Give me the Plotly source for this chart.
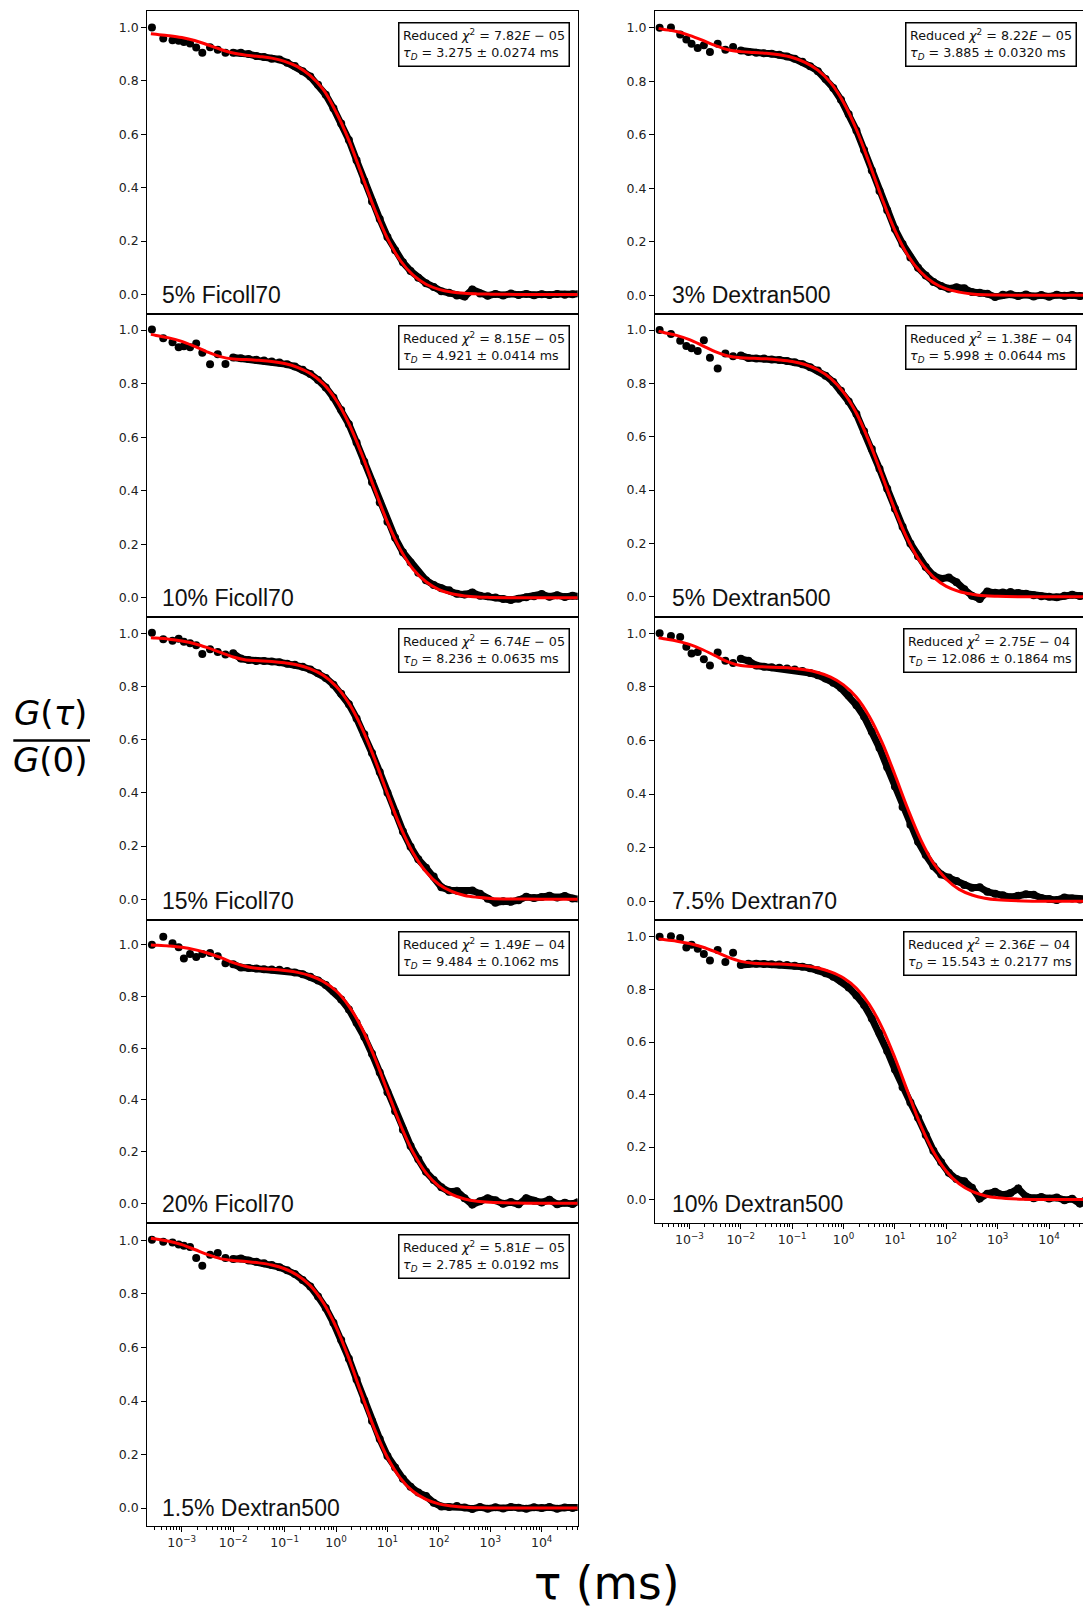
import plotly.graph_objects as go

# ---------------- data ----------------
TAU_DATA = [0.000263, 0.000437, 0.000661, 0.000871, 0.0011, 0.00145, 0.00191, 0.00251, 0.00355,
            0.00501, 0.00708, 0.01, 0.0141, 0.02, 0.0282, 0.0398, 0.0562, 0.0794, 0.112, 0.158,
            0.224, 0.316, 0.447, 0.631, 0.891, 1.26, 1.78, 2.51, 3.55, 5.01, 7.08, 10.0, 14.1,
            20.0, 28.2, 39.8, 56.2, 79.4, 112.0, 158.0, 224.0, 316.0, 447.0, 631.0, 891.0,
            1259.0, 1778.0, 2512.0, 3548.0, 5012.0, 7079.0, 10000.0, 14125.0, 19953.0,
            28184.0, 39811.0, 52481.0]

TAU_FIT = [0.000251, 0.000316, 0.000562, 0.001, 0.00178, 0.00316, 0.00562, 0.01, 0.0178,
           0.0316, 0.0562, 0.1, 0.178, 0.316, 0.562, 1.0, 1.78, 3.16, 5.62, 10.0, 17.8, 31.6,
           56.2, 100.0, 178.0, 316.0, 562.0, 1000.0, 3160.0, 10000.0, 50100.0]

DATA_FICOLL70_5 = [1.000, 0.958, 0.952, 0.950, 0.945, 0.940, 0.925, 0.905, 0.926, 0.916, 0.905, 0.905,
                   0.905, 0.900, 0.893, 0.889, 0.883, 0.880, 0.868, 0.855, 0.836, 0.816, 0.785, 0.748,
                   0.697, 0.640, 0.578, 0.502, 0.425, 0.348, 0.282, 0.215, 0.165, 0.120, 0.088, 0.062,
                   0.042, 0.028, 0.012, 0.006, -0.004, -0.008, 0.018, 0.003, -0.005, 0.002, -0.004,
                   0.003, -0.002, 0.002, -0.003, 0.001, -0.002, 0.002, -0.001, 0.001, 0.003]
FIT_FICOLL70_5 = [0.976, 0.974, 0.969, 0.962, 0.951, 0.935, 0.918, 0.904, 0.896, 0.891, 0.885, 0.873,
                  0.853, 0.819, 0.768, 0.683, 0.577, 0.449, 0.320, 0.210, 0.127, 0.072, 0.038, 0.019,
                  0.009, 0.004, 0.002, 0.001, 0.0, 0.0, 0.0]

DATA_FICOLL70_10 = [1.002, 0.970, 0.955, 0.936, 0.940, 0.936, 0.950, 0.915, 0.872, 0.910, 0.873, 0.898,
                    0.895, 0.892, 0.889, 0.886, 0.883, 0.879, 0.872, 0.864, 0.852, 0.836, 0.814, 0.786,
                    0.748, 0.702, 0.648, 0.580, 0.508, 0.432, 0.356, 0.284, 0.224, 0.170, 0.132, 0.094,
                    0.066, 0.048, 0.036, 0.028, 0.015, 0.012, 0.020, 0.008, 0.006, 0.001, -0.004,
                    -0.008, -0.003, 0.002, 0.006, 0.014, 0.004, 0.010, 0.003, 0.008, 0.005]
FIT_FICOLL70_10 = [0.984, 0.980, 0.971, 0.958, 0.939, 0.918, 0.901, 0.892, 0.890, 0.887, 0.883, 0.875,
                   0.861, 0.838, 0.800, 0.739, 0.651, 0.537, 0.407, 0.283, 0.181, 0.107, 0.060, 0.031,
                   0.015, 0.007, 0.003, 0.0015, 0.0, 0.0, 0.0]

DATA_FICOLL70_15 = [1.002, 0.978, 0.972, 0.980, 0.968, 0.963, 0.955, 0.922, 0.940, 0.930, 0.920, 0.925,
                    0.905, 0.900, 0.896, 0.896, 0.894, 0.891, 0.886, 0.882, 0.874, 0.864, 0.850, 0.832,
                    0.807, 0.773, 0.733, 0.680, 0.620, 0.550, 0.478, 0.400, 0.326, 0.255, 0.197, 0.150,
                    0.118, 0.085, 0.045, 0.034, 0.032, 0.030, 0.033, 0.020, 0.002, -0.013, -0.008,
                    -0.010, -0.004, 0.009, 0.004, 0.008, 0.013, 0.006, 0.012, 0.003, 0.000]
FIT_FICOLL70_15 = [0.983, 0.982, 0.978, 0.971, 0.961, 0.946, 0.928, 0.911, 0.900, 0.897, 0.894, 0.889,
                   0.881, 0.866, 0.842, 0.801, 0.737, 0.645, 0.528, 0.397, 0.273, 0.174, 0.103, 0.056,
                   0.029, 0.014, 0.007, 0.003, 0.0006, 0.0, 0.0]

DATA_FICOLL70_20 = [1.000, 1.031, 1.006, 0.990, 0.947, 0.964, 0.953, 0.964, 0.968, 0.955, 0.928, 0.925,
                    0.912, 0.910, 0.908, 0.905, 0.904, 0.903, 0.898, 0.893, 0.886, 0.876, 0.862, 0.844,
                    0.820, 0.788, 0.750, 0.698, 0.643, 0.578, 0.506, 0.430, 0.356, 0.285, 0.222, 0.170,
                    0.122, 0.090, 0.062, 0.045, 0.047, 0.020, -0.005, 0.008, 0.020, 0.012, -0.002,
                    0.005, -0.004, 0.020, 0.010, 0.003, 0.014, -0.004, 0.002, -0.003, 0.008]
FIT_FICOLL70_20 = [0.999, 0.998, 0.995, 0.990, 0.981, 0.968, 0.951, 0.931, 0.916, 0.908, 0.905, 0.900,
                   0.893, 0.880, 0.858, 0.822, 0.763, 0.678, 0.565, 0.434, 0.305, 0.197, 0.118, 0.066,
                   0.035, 0.017, 0.008, 0.004, 0.001, 0.0, 0.0]

DATA_DEXTRAN500_1_5 = [1.002, 0.995, 0.992, 0.985, 0.980, 0.975, 0.934, 0.905, 0.946, 0.953, 0.934, 0.930,
                       0.932, 0.925, 0.920, 0.915, 0.908, 0.900, 0.888, 0.874, 0.852, 0.828, 0.790, 0.747,
                       0.692, 0.628, 0.558, 0.480, 0.402, 0.325, 0.258, 0.195, 0.152, 0.110, 0.080, 0.058,
                       0.045, 0.020, 0.006, 0.004, 0.008, 0.002, -0.003, 0.004, -0.002, 0.003, -0.001,
                       0.004, 0.001, -0.002, 0.003, 0.000, 0.004, -0.002, 0.002, 0.000, 0.002]
FIT_DEXTRAN500_1_5 = [1.008, 1.005, 0.997, 0.984, 0.966, 0.947, 0.932, 0.925, 0.921, 0.916, 0.908, 0.894,
                      0.870, 0.831, 0.768, 0.677, 0.559, 0.425, 0.295, 0.189, 0.112, 0.062, 0.033, 0.016,
                      0.008, 0.003, 0.0015, 0.0006, 0.0, 0.0, 0.0]

DATA_DEXTRAN500_3 = [1.000, 1.001, 0.975, 0.956, 0.940, 0.925, 0.935, 0.910, 0.940, 0.918, 0.928, 0.915,
                     0.910, 0.907, 0.905, 0.903, 0.899, 0.893, 0.884, 0.873, 0.856, 0.838, 0.809, 0.775,
                     0.731, 0.677, 0.616, 0.543, 0.467, 0.390, 0.318, 0.248, 0.192, 0.141, 0.103, 0.074,
                     0.050, 0.035, 0.025, 0.030, 0.026, 0.012, 0.010, 0.006, -0.006, 0.002, 0.004,
                     -0.003, 0.003, -0.004, 0.001, -0.005, 0.002, -0.002, 0.001, -0.003, 0.000]
FIT_DEXTRAN500_3 = [0.998, 0.994, 0.986, 0.972, 0.954, 0.934, 0.918, 0.911, 0.908, 0.905, 0.899, 0.889,
                    0.871, 0.842, 0.794, 0.721, 0.620, 0.495, 0.362, 0.243, 0.150, 0.087, 0.047, 0.024,
                    0.012, 0.005, 0.002, 0.001, 0.0, 0.0, 0.0]

DATA_DEXTRAN500_5 = [1.000, 0.985, 0.960, 0.940, 0.932, 0.921, 0.962, 0.896, 0.856, 0.912, 0.902, 0.905,
                     0.895, 0.893, 0.893, 0.890, 0.888, 0.884, 0.879, 0.872, 0.861, 0.848, 0.829, 0.805,
                     0.772, 0.732, 0.685, 0.621, 0.554, 0.480, 0.405, 0.330, 0.263, 0.200, 0.152, 0.112,
                     0.080, 0.068, 0.072, 0.055, 0.028, 0.004, -0.008, 0.020, 0.015, 0.016, 0.018,
                     0.014, 0.012, 0.006, 0.002, 0.000, -0.002, 0.004, 0.008, 0.003, 0.005]
FIT_DEXTRAN500_5 = [0.996, 0.991, 0.980, 0.964, 0.942, 0.919, 0.903, 0.896, 0.894, 0.892, 0.888, 0.882,
                    0.871, 0.851, 0.819, 0.766, 0.688, 0.581, 0.455, 0.326, 0.214, 0.130, 0.074, 0.039,
                    0.020, 0.010, 0.004, 0.002, 0.0004, 0.0, 0.0]

DATA_DEXTRAN70_7_5 = [1.001, 0.990, 0.987, 0.950, 0.925, 0.931, 0.904, 0.880, 0.929, 0.898, 0.890, 0.905,
                      0.898, 0.880, 0.876, 0.874, 0.872, 0.869, 0.865, 0.860, 0.852, 0.844, 0.832, 0.816,
                      0.796, 0.768, 0.732, 0.690, 0.633, 0.572, 0.500, 0.428, 0.352, 0.285, 0.222, 0.172,
                      0.130, 0.100, 0.088, 0.075, 0.060, 0.050, 0.052, 0.035, 0.028, 0.022, 0.015,
                      0.020, 0.026, 0.024, 0.012, 0.008, 0.004, 0.014, 0.010, 0.006, 0.008]
FIT_DEXTRAN70_7_5 = [0.984, 0.980, 0.972, 0.959, 0.940, 0.917, 0.894, 0.880, 0.876, 0.875, 0.873, 0.870,
                     0.864, 0.854, 0.837, 0.808, 0.762, 0.691, 0.593, 0.472, 0.345, 0.231, 0.142, 0.082,
                     0.044, 0.023, 0.011, 0.005, 0.001, 0.0, 0.0]

DATA_DEXTRAN500_10 = [1.001, 1.003, 0.996, 0.960, 0.970, 0.955, 0.935, 0.910, 0.950, 0.905, 0.940, 0.893,
                      0.898, 0.898, 0.897, 0.896, 0.895, 0.893, 0.890, 0.887, 0.881, 0.873, 0.862, 0.849,
                      0.832, 0.808, 0.777, 0.741, 0.690, 0.633, 0.566, 0.495, 0.428, 0.370, 0.312, 0.246,
                      0.186, 0.142, 0.102, 0.078, 0.070, 0.045, 0.004, 0.022, 0.030, 0.018, 0.025,
                      0.042, 0.012, 0.005, 0.010, 0.004, 0.008, -0.002, 0.003, -0.015, 0.002]
FIT_DEXTRAN500_10 = [0.992, 0.990, 0.984, 0.975, 0.962, 0.944, 0.923, 0.907, 0.900, 0.898, 0.897, 0.894,
                     0.890, 0.882, 0.867, 0.844, 0.805, 0.744, 0.655, 0.540, 0.410, 0.284, 0.182, 0.108,
                     0.060, 0.031, 0.015, 0.007, 0.0014, 0.0003, 0.0]

LABELS = ["5% Ficoll70", "10% Ficoll70", "15% Ficoll70", "20% Ficoll70", "1.5% Dextran500",
          "3% Dextran500", "5% Dextran500", "7.5% Dextran70", "10% Dextran500"]
CHI2_MANT = ["7.82", "8.15", "6.74", "1.49", "5.81", "8.22", "1.38", "2.75", "2.36"]
CHI2_EXP = ["05", "05", "05", "04", "05", "05", "04", "04", "04"]
TAU_D = ["3.275", "4.921", "8.236", "9.484", "2.785", "3.885", "5.998", "12.086", "15.543"]
TAU_D_ERR = ["0.0274", "0.0414", "0.0635", "0.1062", "0.0192", "0.0320", "0.0644", "0.1864", "0.2177"]

Y_TICKS = [0.0, 0.2, 0.4, 0.6, 0.8, 1.0]
Y_TICK_TEXT = ["0.0", "0.2", "0.4", "0.6", "0.8", "1.0"]
X_TICK_DECADES = [-3, -2, -1, 0, 1, 2, 3, 4]
X_TICK_TEXT = ["10<sup>−3</sup>", "10<sup>−2</sup>", "10<sup>−1</sup>", "10<sup>0</sup>",
               "10<sup>1</sup>", "10<sup>2</sup>", "10<sup>3</sup>", "10<sup>4</sup>"]
MINOR_DECADES = [-4, -3, -2, -1, 0, 1, 2, 3, 4]
MINOR_MULT = [2, 3, 4, 5, 6, 7, 8, 9]

DATA = [DATA_FICOLL70_5, DATA_FICOLL70_10, DATA_FICOLL70_15, DATA_FICOLL70_20, DATA_DEXTRAN500_1_5,
        DATA_DEXTRAN500_3, DATA_DEXTRAN500_5, DATA_DEXTRAN70_7_5, DATA_DEXTRAN500_10]
FITS = [FIT_FICOLL70_5, FIT_FICOLL70_10, FIT_FICOLL70_15, FIT_FICOLL70_20, FIT_DEXTRAN500_1_5,
        FIT_DEXTRAN500_3, FIT_DEXTRAN500_5, FIT_DEXTRAN70_7_5, FIT_DEXTRAN500_10]

# ---------------- layout geometry / styling ----------------
Y_RANGES = [[-0.0725, 1.0625], [-0.071, 1.061], [-0.078, 1.062], [-0.076, 1.096], [-0.067, 1.065],
            [-0.069, 1.064], [-0.075, 1.061], [-0.070, 1.062], [-0.089, 1.065]]
X_RANGE = [-3.67, 4.70]
WIN_W, WIN_H = 1091, 1610
PAGE_OFF = 8.0                      # default body margin of the html page
FIG_W, FIG_H = WIN_W - PAGE_OFF, WIN_H - PAGE_OFF
COL_X = [(147.3, 577.7), (655.0, 1085.0)]   # window pixels
PANEL_TOP0 = 10.7
PANEL_H = 303.07
POSITIONS = [(0, 0), (0, 1), (0, 2), (0, 3), (0, 4), (1, 0), (1, 1), (1, 2), (1, 3)]
BOTTOM_PANELS = {4, 8}
LABEL_XOFF = [12.5, 14.8]
LINE_START = 11


def px(xw):
    return (xw - PAGE_OFF) / FIG_W


def py(yw):
    return 1 - (yw - PAGE_OFF) / FIG_H


minor_vals = [m * 10.0 ** d for d in MINOR_DECADES for m in MINOR_MULT]
major_vals = [10.0 ** d for d in X_TICK_DECADES]

fig = go.Figure()
layout = {}
annotations = []

for i in range(9):
    col, row = POSITIONS[i]
    n = i + 1
    sfx = "" if n == 1 else str(n)
    x0, x1 = COL_X[col]
    top = PANEL_TOP0 + PANEL_H * row
    bot = top + PANEL_H
    is_bottom = i in BOTTOM_PANELS

    layout["xaxis" + sfx] = dict(
        domain=[px(x0), px(x1)], anchor="y" + sfx, type="log", range=X_RANGE,
        automargin=False,
        showline=True, mirror=True, linecolor="black", linewidth=1.3,
        showgrid=False, zeroline=False,
        ticks="outside" if is_bottom else "", ticklen=5, tickwidth=1, tickcolor="black",
        tickmode="array", tickvals=major_vals, ticktext=X_TICK_TEXT,
        showticklabels=is_bottom,
        tickfont=dict(family="DejaVu Sans", size=12.5, color="#222222"),
        minor=dict(tickmode="array", tickvals=minor_vals,
                   ticks="outside" if is_bottom else "", ticklen=2.8, tickwidth=0.8,
                   tickcolor="black", showgrid=False),
    )
    layout["yaxis" + sfx] = dict(
        domain=[py(bot), py(top)], anchor="x" + sfx, range=Y_RANGES[i],
        automargin=False,
        showline=True, mirror=True, linecolor="black", linewidth=1.3,
        showgrid=False, zeroline=False,
        ticks="outside", ticklen=5, tickwidth=1, tickcolor="black",
        tickmode="array", tickvals=Y_TICKS, ticktext=Y_TICK_TEXT,
        tickfont=dict(family="DejaVu Sans", size=12.5, color="#222222"),
    )

    xr, yr = "x" + sfx, "y" + sfx
    fig.add_trace(go.Scatter(x=TAU_DATA[LINE_START:], y=DATA[i][LINE_START:], mode="lines",
                             line=dict(color="black", width=7), xaxis=xr, yaxis=yr,
                             cliponaxis=False, hoverinfo="skip"))
    fig.add_trace(go.Scatter(x=TAU_DATA, y=DATA[i], mode="markers",
                             marker=dict(color="black", size=8, line=dict(width=0)),
                             xaxis=xr, yaxis=yr, cliponaxis=False))
    fig.add_trace(go.Scatter(x=TAU_FIT, y=FITS[i], mode="lines", line_shape="spline",
                             line=dict(color="#ff0000", width=3), xaxis=xr, yaxis=yr))

    annotations.append(dict(
        xref=xr + " domain", yref=yr + " domain",
        x=LABEL_XOFF[col] / (x1 - x0), y=18.5 / PANEL_H,
        xanchor="left", yanchor="middle", showarrow=False,
        text=LABELS[i], font=dict(family="Liberation Sans", size=23, color="#111111")))
    annotations.append(dict(
        xref=xr + " domain", yref=yr + " domain",
        x=1 - 8.2 / (x1 - x0), y=1 - 11.0 / PANEL_H,
        xanchor="right", yanchor="top", showarrow=False, align="left",
        text=("Reduced <i>χ</i><sup>2</sup> = " + CHI2_MANT[i] + "<i>E</i> − " + CHI2_EXP[i] +
              "<br><i>τ</i><sub><i>D</i></sub> = " + TAU_D[i] + " ± " + TAU_D_ERR[i] + " ms"),
        font=dict(family="DejaVu Sans", size=12.7, color="#111111"),
        bordercolor="black", borderwidth=1.5, borderpad=3.5, bgcolor="white"))

# axis titles
annotations.append(dict(xref="paper", yref="paper", x=px(50.5), y=py(713.2),
                        xanchor="center", yanchor="middle", showarrow=False,
                        text="<i>G</i>(<i>τ</i>)",
                        font=dict(family="DejaVu Sans", size=34, color="black")))
annotations.append(dict(xref="paper", yref="paper", x=px(50.5), y=py(759.9),
                        xanchor="center", yanchor="middle", showarrow=False,
                        text="<i>G</i>(0)",
                        font=dict(family="DejaVu Sans", size=34, color="black")))
annotations.append(dict(xref="paper", yref="paper", x=px(606.5), y=py(1583.0),
                        xanchor="center", yanchor="middle", showarrow=False,
                        text="τ (ms)",
                        font=dict(family="DejaVu Sans", size=45.5, color="black")))

shapes = [dict(type="line", xref="paper", yref="paper",
               x0=px(13.3), x1=px(90.0), y0=py(740.5), y1=py(740.5),
               line=dict(color="black", width=2.5))]

fig.update_layout(
    width=FIG_W, height=FIG_H,
    margin=dict(l=0, r=0, t=0, b=0, autoexpand=False),
    paper_bgcolor="white", plot_bgcolor="white",
    showlegend=False,
    annotations=annotations, shapes=shapes,
    **layout,
)

fig.write_html("out.html")
